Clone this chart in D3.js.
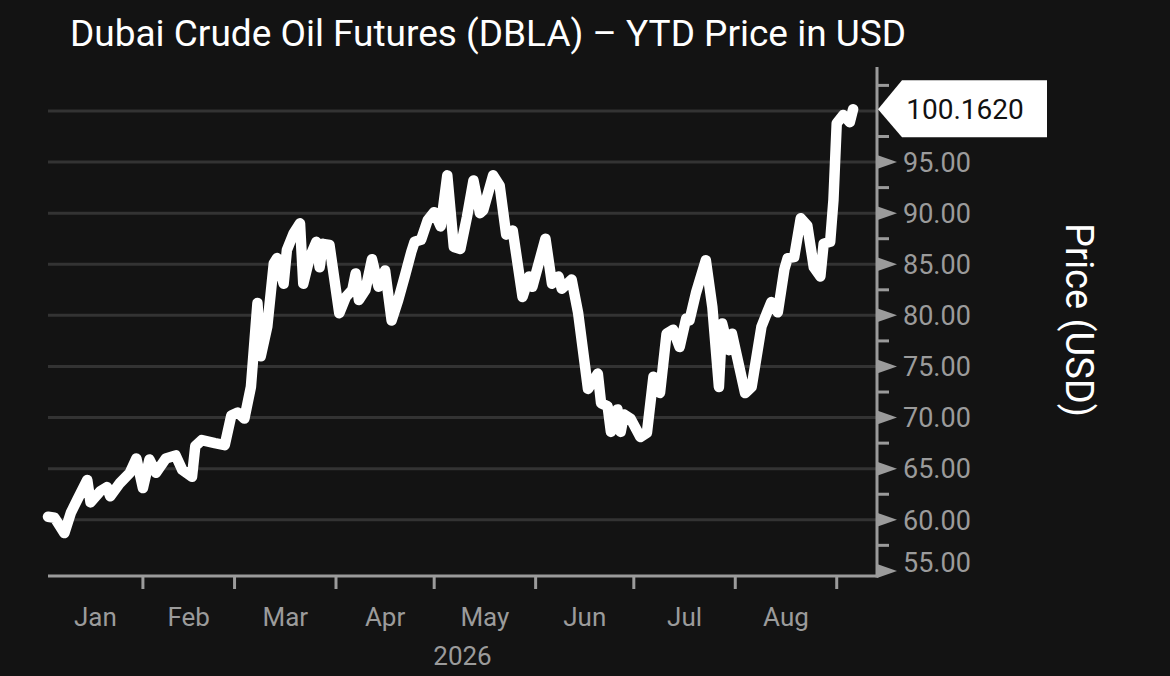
<!DOCTYPE html>
<html>
<head>
<meta charset="utf-8">
<script src="https://cdn.jsdelivr.net/npm/d3@7"></script>
<style>
  html, body { margin: 0; padding: 0; background: #131313; }
  svg { display: block; font-family: Roboto, "Noto Sans", sans-serif; }
</style>
</head>
<body>
<div id="chart"></div>
<script>
// Dados //
const dates = [
  "2026-01-03","2026-01-05","2026-01-08","2026-01-10","2026-01-12","2026-01-15","2026-01-16","2026-01-19",
  "2026-01-21","2026-01-22","2026-01-25","2026-01-28","2026-01-30","2026-02-01","2026-02-03","2026-02-05",
  "2026-02-08","2026-02-10","2026-02-11","2026-02-13","2026-02-16","2026-02-17","2026-02-19","2026-02-23",
  "2026-02-26","2026-02-28","2026-03-02","2026-03-04","2026-03-06","2026-03-08","2026-03-09","2026-03-11",
  "2026-03-13","2026-03-14","2026-03-16","2026-03-17","2026-03-19","2026-03-21","2026-03-22","2026-03-24",
  "2026-03-26","2026-03-27","2026-03-28","2026-03-30","2026-04-02","2026-04-04","2026-04-06","2026-04-07",
  "2026-04-08","2026-04-10","2026-04-12","2026-04-14","2026-04-16","2026-04-18","2026-04-20","2026-04-22",
  "2026-04-24","2026-04-25","2026-04-27","2026-04-29","2026-05-01","2026-05-03","2026-05-05","2026-05-07",
  "2026-05-09","2026-05-11","2026-05-13","2026-05-15","2026-05-16","2026-05-19","2026-05-21","2026-05-23",
  "2026-05-25","2026-05-28","2026-05-30","2026-05-31","2026-06-04","2026-06-06","2026-06-08","2026-06-09",
  "2026-06-12","2026-06-14","2026-06-17","2026-06-20","2026-06-21","2026-06-23","2026-06-24","2026-06-26",
  "2026-06-27","2026-06-28","2026-06-30","2026-07-03","2026-07-05","2026-07-07","2026-07-09","2026-07-11",
  "2026-07-13","2026-07-15","2026-07-17","2026-07-18","2026-07-20","2026-07-23","2026-07-25","2026-07-27",
  "2026-07-28","2026-07-30","2026-07-31","2026-08-04","2026-08-06","2026-08-09","2026-08-12","2026-08-14",
  "2026-08-16","2026-08-17","2026-08-19","2026-08-21","2026-08-23","2026-08-25","2026-08-27","2026-08-28",
  "2026-08-30","2026-08-31","2026-09-01","2026-09-03","2026-09-05","2026-09-06"
];
const prices = [
  60.3, 60.2, 58.7, 60.7, 62.0, 63.9, 61.7, 62.8,
  63.2, 62.3, 63.6, 64.6, 66.0, 63.1, 65.9, 64.6,
  66.0, 66.2, 66.3, 64.9, 64.2, 67.2, 67.8, 67.5,
  67.3, 70.2, 70.5, 69.9, 73.0, 81.2, 76.0, 78.9,
  85.1, 85.6, 83.1, 86.4, 88.0, 89.0, 83.1, 85.7,
  87.2, 84.7, 87.0, 86.9, 80.2, 81.8, 82.5, 84.1,
  81.5, 82.5, 85.5, 82.8, 84.4, 79.5, 81.5, 83.8,
  86.2, 87.2, 87.4, 89.3, 90.1, 88.7, 93.7, 86.7,
  86.5, 89.6, 93.2, 90.0, 90.3, 93.7, 92.7, 87.9,
  88.3, 81.8, 83.8, 82.8, 87.5, 83.1, 83.8, 82.6,
  83.5, 80.2, 72.8, 74.3, 71.4, 71.1, 68.6, 70.8,
  68.6, 70.3, 69.9, 68.1, 68.5, 74.0, 72.4, 78.2,
  78.6, 76.9, 79.7, 79.5, 82.2, 85.4, 80.8, 73.0,
  79.2, 76.6, 78.2, 72.4, 73.0, 78.9, 81.3, 80.3,
  84.5, 85.6, 85.7, 89.5, 88.8, 84.7, 83.8, 87.0,
  87.2, 91.3, 98.8, 99.6, 98.9, 100.162
];
const lastPriceLabel = "100.1620";
const yTicks = [55, 60, 65, 70, 75, 80, 85, 90, 95];
const yGrid = [60, 65, 70, 75, 80, 85, 90, 95, 100];
const yMinorTicks = [57.5, 62.5, 67.5, 72.5, 77.5, 82.5, 87.5, 92.5, 97.5, 102.5];
const monthNames = ["Jan", "Feb", "Mar", "Apr", "May", "Jun", "Jul", "Aug"];
const monthStarts = ["2026-01-01","2026-02-01","2026-03-01","2026-04-01","2026-05-01",
                     "2026-06-01","2026-07-01","2026-08-01","2026-09-01"];
const yearLabel = "2026";
const titleText = "Dubai Crude Oil Futures (DBLA) \u2013 YTD Price in USD";
const yTitle = "Price (USD)";

var oilChart = {
  // Renderiza o gráfico //
  render: function(node){
    const W = 1170, H = 676
    const left = 48, right = 877, top = 67, bottom = 576
    const parse = d3.timeParse("%Y-%m-%d")
    const data = dates.map((d, i) => ({ date: parse(d), valor: prices[i] }))
    const grey = "#9b9b9b"

    const x = d3.scaleTime()
      .domain([parse("2026-01-03"), parse("2026-09-13")])
      .range([left, right - 1])
    const y = d3.scaleLinear().domain([54.5, 104.3]).range([bottom, top])

    const svg = d3.select(node).append("svg")
      .attr("width", W).attr("height", H)
      .attr("viewBox", "0 0 " + W + " " + H)

    svg.append("rect").attr("width", W).attr("height", H).attr("fill", "#131313")

    // titulo
    svg.append("text")
      .attr("x", 70).attr("y", 46)
      .attr("fill", "#ffffff")
      .style("font-size", "37px")
      .text(titleText)

    // grade
    svg.append("g").selectAll("line").data(yGrid).enter().append("line")
      .attr("x1", left).attr("x2", right)
      .attr("y1", d => y(d)).attr("y2", d => y(d))
      .attr("stroke", "#333333").attr("stroke-width", 3)

    // eixo x
    svg.append("line")
      .attr("x1", left).attr("x2", right).attr("y1", bottom).attr("y2", bottom)
      .attr("stroke", grey).attr("stroke-width", 3)

    const starts = monthStarts.map(parse)
    svg.append("g").selectAll("line").data(starts.slice(1)).enter().append("line")
      .attr("x1", d => x(d)).attr("x2", d => x(d))
      .attr("y1", bottom).attr("y2", bottom + 13)
      .attr("stroke", grey).attr("stroke-width", 3)

    svg.append("g").selectAll("text").data(monthNames).enter().append("text")
      .attr("x", (d, i) => (Math.max(left, x(starts[i])) + x(starts[i + 1])) / 2)
      .attr("y", 626)
      .attr("text-anchor", "middle")
      .attr("fill", grey)
      .style("font-size", "26px")
      .text(d => d)

    svg.append("text")
      .attr("x", (left + right) / 2).attr("y", 665)
      .attr("text-anchor", "middle")
      .attr("fill", grey)
      .style("font-size", "26px")
      .text(yearLabel)

    // eixo y
    svg.append("line")
      .attr("x1", right).attr("x2", right).attr("y1", top).attr("y2", bottom + 1.5)
      .attr("stroke", grey).attr("stroke-width", 3)

    svg.append("g").selectAll("line").data(yMinorTicks).enter().append("line")
      .attr("x1", right).attr("x2", right + 12)
      .attr("y1", d => y(d)).attr("y2", d => y(d))
      .attr("stroke", grey).attr("stroke-width", 3)

    svg.append("g").selectAll("path").data(yTicks).enter().append("path")
      .attr("d", d => "M" + right + "," + (y(d) - 7) + "L" + (right + 20) + "," + y(d) + "L" + right + "," + (y(d) + 7) + "Z")
      .attr("fill", grey)

    svg.append("g").selectAll("text").data(yTicks).enter().append("text")
      .attr("x", right + 26)
      .attr("y", d => Math.min(y(d), 562))
      .attr("dy", "0.36em")
      .attr("fill", grey)
      .style("font-size", "27px")
      .text(d => d3.format(".2f")(d))

    // linha de preço
    const line = d3.line().x(d => x(d.date)).y(d => y(d.valor))
    svg.append("path")
      .datum(data)
      .attr("d", line)
      .attr("fill", "none")
      .attr("stroke", "#ffffff")
      .attr("stroke-width", 10.5)
      .attr("stroke-linejoin", "round")
      .attr("stroke-linecap", "round")

    // etiqueta do ultimo valor
    const yl = y(prices[prices.length - 1])
    svg.append("path")
      .attr("d", "M" + (right + 1) + "," + yl + "L" + (right + 25) + "," + (yl - 29) +
                 "L1047," + (yl - 29) + "L1047," + (yl + 28) + "L" + (right + 25) + "," + (yl + 28) + "Z")
      .attr("fill", "#ffffff")
    svg.append("text")
      .attr("x", 965).attr("y", yl)
      .attr("dy", "0.36em")
      .attr("text-anchor", "middle")
      .attr("fill", "#111111")
      .style("font-size", "28px")
      .text(lastPriceLabel)

    // titulo do eixo y
    svg.append("text")
      .attr("transform", "translate(1080,320) rotate(90)")
      .attr("text-anchor", "middle")
      .attr("dy", "0.36em")
      .attr("fill", "#ffffff")
      .style("font-size", "38px")
      .text(yTitle)
  }
}

oilChart.render("#chart")
</script>
</body>
</html>
